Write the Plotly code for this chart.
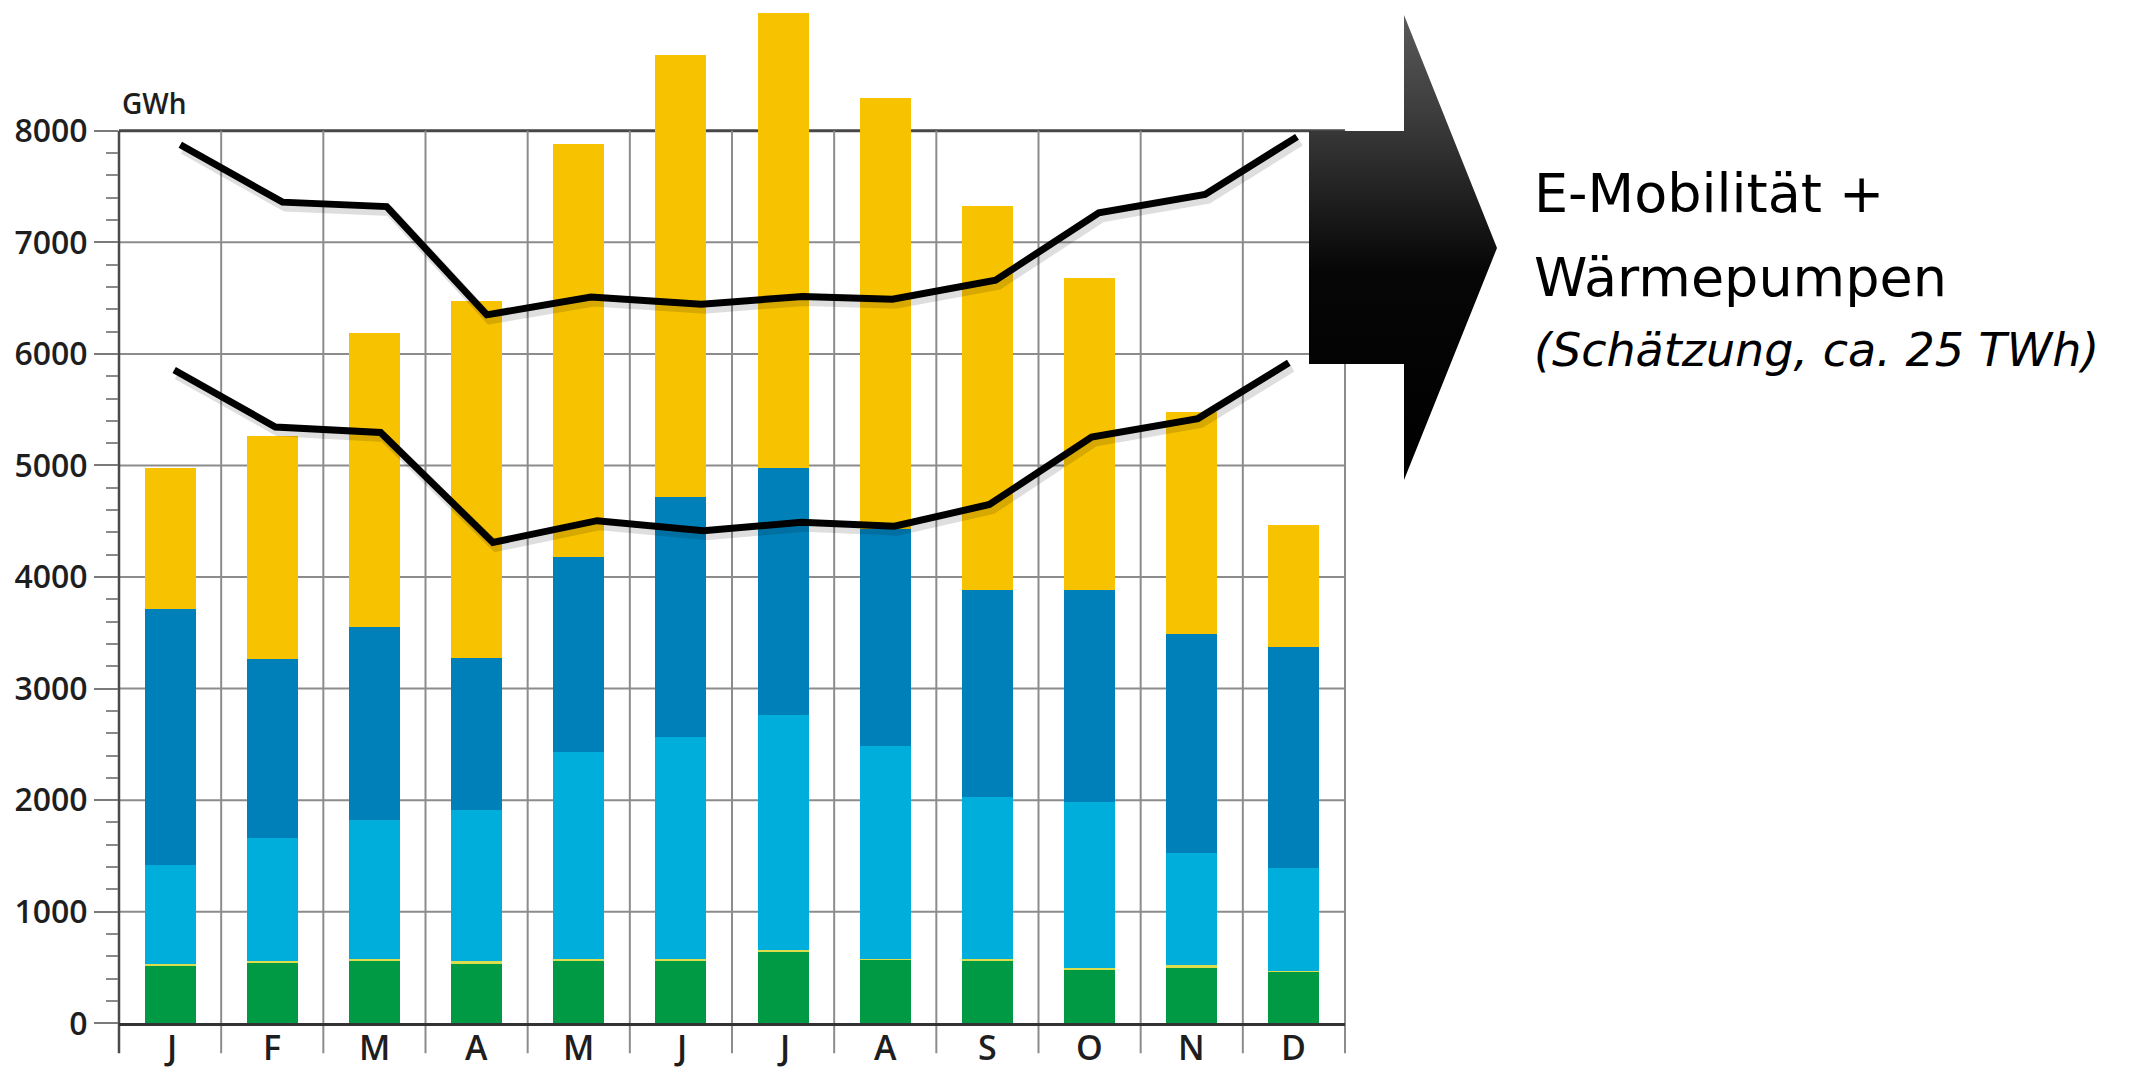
import plotly.graph_objects as go

# ---------------- data ----------------
MONTHS = ["J", "F", "M", "A", "M", "J", "J", "A", "S", "O", "N", "D"]
GREEN = [515, 545, 560, 535, 565, 560, 635, 570, 565, 485, 500, 460]
THIN = [20, 15, 20, 20, 10, 15, 25, 10, 15, 8, 20, 10]
LIGHT_BLUE = [880, 1100, 1240, 1360, 1860, 1995, 2100, 1905, 1445, 1495, 1010, 920]
DARK_BLUE = [2300, 1605, 1730, 1360, 1745, 2150, 2220, 1945, 1860, 1895, 1960, 1980]
YELLOW = [1265, 2000, 2640, 3195, 3705, 3960, 4075, 3865, 3440, 2800, 1985, 1100]

UPPER = [7875, 7360, 7320, 6350, 6510, 6445, 6515, 6490, 6660, 7265, 7430, 7945]
UPPER_X = [0.10, 1.10, 2.12, 3.10, 4.12, 5.20, 6.19, 7.07, 8.08, 9.09, 10.13, 11.03]
LOWER = [5855, 5345, 5295, 4310, 4505, 4415, 4490, 4455, 4650, 5255, 5420, 5920]
LOWER_X = [0.04, 1.03, 2.06, 3.16, 4.18, 5.22, 6.18, 7.09, 8.02, 9.02, 10.06, 10.95]

Y_TICKS = list(range(0, 8001, 1000))
Y_MINOR = [v for v in range(0, 8001, 200) if v % 1000]

# ---------------- geometry / style ----------------
W, H = 2131, 1073
X0_PX, X1_PX = 119, 1345
ZERO_PX = 1023.3
Y_MAX = 9172
N = len(MONTHS)
IDX = list(range(N))

C_GREEN = "#009A44"
C_THIN = "#DCDD4C"
C_LB = "#00AEDB"
C_DB = "#0080B9"
C_YEL = "#F7C300"
GRID = "#8c8c8c"
TICKFONT = dict(family="Open Sans", size=32, color="#1e1e1e", weight=600)

fig = go.Figure()

for name, vals, col in [("green", GREEN, C_GREEN), ("thin", THIN, C_THIN),
                        ("lightblue", LIGHT_BLUE, C_LB), ("darkblue", DARK_BLUE, C_DB),
                        ("yellow", YELLOW, C_YEL)]:
    fig.add_trace(go.Bar(x=IDX, y=vals, name=name, marker=dict(color=col, line=dict(width=0)),
                         width=0.5, hoverinfo="skip"))

# soft shadows + lines
for xs, ys in [(UPPER_X, UPPER), (LOWER_X, LOWER)]:
    fig.add_trace(go.Scatter(x=[v + 0.03 for v in xs], y=[v - 40 for v in ys], mode="lines",
                             line=dict(color="rgba(0,0,0,0.13)", width=10), hoverinfo="skip"))
for xs, ys in [(UPPER_X, UPPER), (LOWER_X, LOWER)]:
    fig.add_trace(go.Scatter(x=xs, y=ys, mode="lines",
                             line=dict(color="#000000", width=7), hoverinfo="skip"))

# arrow on a full-page pixel axis
ax_px = [1309, 1404, 1404, 1497, 1404, 1404, 1309, 1309]
ay_px = [131, 131, 15, 248, 480, 364, 364, 131]
fig.add_trace(go.Scatter(
    x=ax_px, y=[H - v for v in ay_px], xaxis="x2", yaxis="y2", mode="lines",
    fill="toself", line=dict(width=0, color="rgba(0,0,0,0)"),
    fillgradient=dict(type="vertical",
                      colorscale=[[0, "#000000"], [0.45, "#060606"], [0.75, "#373737"], [1, "#5a5a5a"]]),
    hoverinfo="skip"))

shapes = []
below = -30 / ZERO_PX
top_frac = 8000 / Y_MAX
# horizontal grid lines (frame line at 8000 darker)
for v in Y_TICKS[1:]:
    dark = v == Y_TICKS[-1]
    shapes.append(dict(type="line", xref="x domain", yref="y", x0=0, x1=1, y0=v, y1=v,
                       layer="below", line=dict(color="#474747" if dark else GRID, width=3 if dark else 2)))
# vertical month-boundary lines, running below the axis as ticks
for i in range(N + 1):
    shapes.append(dict(type="line", xref="x domain", yref="y domain", x0=i / N, x1=i / N,
                       y0=below, y1=top_frac, layer="below",
                       line=dict(color="#4a4a4a" if i == 0 else GRID, width=2.5 if i == 0 else 2)))

annotations = [
    dict(text="GWh", xref="paper", yref="paper", x=154 / W, y=1 - 103 / H, showarrow=False,
         xanchor="center", yanchor="middle",
         font=dict(family="Open Sans", size=28, color="#1e1e1e", weight=600)),
    dict(text="E-Mobilität +", xref="paper", yref="paper", x=1532 / W, y=1 - 193 / H, showarrow=False,
         xanchor="left", yanchor="middle", font=dict(family="DejaVu Sans", size=54, color="#000000")),
    dict(text="Wärmepumpen", xref="paper", yref="paper", x=1532 / W, y=1 - 277 / H, showarrow=False,
         xanchor="left", yanchor="middle", font=dict(family="DejaVu Sans", size=54, color="#000000")),
    dict(text="(Schätzung, ca. 25 TWh)", xref="paper", yref="paper", x=1532 / W, y=1 - 350 / H,
         showarrow=False, xanchor="left", yanchor="middle",
         font=dict(family="DejaVu Sans", size=46, color="#000000", style="italic")),
]
# month labels under each bar (kept fully inside the page)
for i, m in enumerate(MONTHS):
    annotations.append(dict(text=m, xref="x", yref="paper", x=i, y=0.001, showarrow=False,
                            xanchor="center", yanchor="bottom",
                            font=dict(family="Open Sans", size=34, color="#1e1e1e", weight=600)))

fig.update_layout(
    template="none",
    width=W, height=H, autosize=False, margin=dict(l=0, r=0, t=0, b=0, autoexpand=False),
    paper_bgcolor="white", plot_bgcolor="rgba(0,0,0,0)",
    barmode="stack", bargap=0.5, showlegend=False,
    xaxis=dict(domain=[X0_PX / W, X1_PX / W], range=[-0.5, N - 0.5], tickvals=IDX,
               showticklabels=False, ticks="", showgrid=False, zeroline=False, showline=True,
               linecolor="#333333", linewidth=2.5, automargin=False, fixedrange=True),
    yaxis=dict(domain=[(H - ZERO_PX) / H, 1], range=[0, Y_MAX], tickvals=Y_TICKS,
               ticktext=[str(v) for v in Y_TICKS], ticks="outside", ticklen=24, tickwidth=2,
               tickcolor="#7a7a7a", showgrid=False, zeroline=False,
               showline=False, tickfont=TICKFONT, automargin=False,
               minor=dict(tickvals=Y_MINOR, ticks="outside", ticklen=12, tickwidth=2,
                          tickcolor="#8a8a8a", showgrid=False), fixedrange=True),
    xaxis2=dict(domain=[0, 1], range=[0, W], visible=False, anchor="y2", automargin=False,
                fixedrange=True),
    yaxis2=dict(domain=[0, 1], range=[0, H], visible=False, anchor="x2", automargin=False,
                fixedrange=True),
    shapes=shapes, annotations=annotations,
)

fig.write_html("out.html", config={"displayModeBar": False})
